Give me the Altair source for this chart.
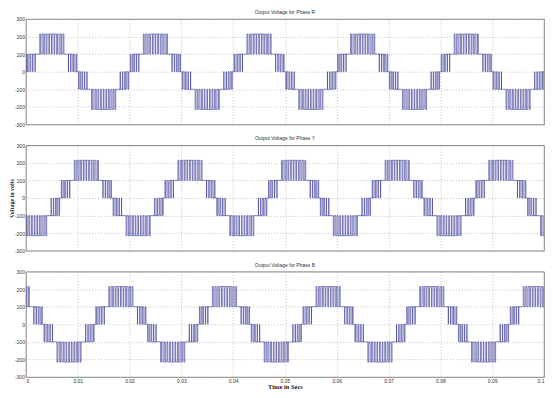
import altair as alt
import pandas as pd

# ---- values ----
TIME_TICKS = [0, 0.01, 0.02, 0.03, 0.04, 0.05, 0.06, 0.07, 0.08, 0.09, 0.1]
VOLT_TICKS = [-300, -200, -100, 0, 100, 200, 300]
PHASES = ["R", "Y", "B"]
PANEL_TITLES = ["Output Voltage for Phase R", "Output Voltage for Phase Y", "Output Voltage for Phase B"]
PHASE_DELAY = [0.0, 0.00667, 0.01333]   # s, lag of each phase behind phase R
PERIOD = 0.02                            # s, one fundamental cycle (5 cycles in 0.1 s)
N_CYCLES = [-1, 0, 1, 2, 3, 4, 5, 6]

# one cycle of the phase-R staircase, split in switching bands (times inside the cycle, s)
BAND_START = [0.0000, 0.0018, 0.0025, 0.0075, 0.0082, 0.0100, 0.0118, 0.0125, 0.0175, 0.0182]
BAND_END   = [0.0018, 0.0025, 0.0075, 0.0082, 0.0100, 0.0118, 0.0125, 0.0175, 0.0182, 0.0200]
BAND_BASE  = [0, 100, 100, 100, 0, 0, -100, -100, -100, 0]          # level between pulses (V)
BAND_PULSE = [100, 100, 215, 100, 100, -100, -100, -215, -100, -100] # level during a pulse (V)
BAND_DUTY = [
    [0.30, 0.55, 0.75, 0.90],
    [],
    [0.35, 0.50, 0.60, 0.70, 0.75, 0.75, 0.70, 0.60, 0.50, 0.35],
    [],
    [0.90, 0.75, 0.55, 0.30],
    [0.30, 0.55, 0.75, 0.90],
    [],
    [0.35, 0.50, 0.60, 0.70, 0.75, 0.75, 0.70, 0.60, 0.50, 0.35],
    [],
    [0.90, 0.75, 0.55, 0.30],
]

# ---- build the switching edges from the band table ----
rows = []
for phase, delay in zip(PHASES, PHASE_DELAY):
    for k in N_CYCLES:
        off = k * PERIOD + delay
        for t0, t1, lo, hi, duty in zip(BAND_START, BAND_END, BAND_BASE, BAND_PULSE, BAND_DUTY):
            a, b = t0 + off, t1 + off
            rows.append({"phase": phase, "t": a, "v": lo})
            n = len(duty)
            if n:
                p = (b - a) / n
                for i, d in enumerate(duty):
                    c = a + (i + 0.5) * p
                    w = d * p
                    rows.append({"phase": phase, "t": c - w / 2, "v": hi})
                    rows.append({"phase": phase, "t": c + w / 2, "v": lo})
df = pd.DataFrame(rows)
df = df[(df["t"] > -0.004) & (df["t"] < 0.104)].sort_values(["phase", "t"])

W, H = 521, 106
LINE = "#22228c"


def panel(i):
    phase = PHASES[i]
    last = i == 2
    mid = i == 1
    xaxis = alt.Axis(
        values=TIME_TICKS,
        grid=True,
        labels=last,
        title="Time in Secs" if last else None,
        labelExpr="format(datum.value, '.2~f')",
        titleFont="Liberation Serif",
        titleFontWeight="bold",
        titleFontSize=6.5,
        titlePadding=0,
    )
    yaxis = alt.Axis(
        values=VOLT_TICKS,
        grid=True,
        labelExpr="'' + datum.value",
        title="Voltage in volts" if mid else None,
        titleFont="Liberation Serif",
        titleFontWeight="bold",
        titleFontSize=6,
        titlePadding=0,
    )
    return (
        alt.Chart(df[df["phase"] == phase])
        .mark_line(interpolate="step-after", color=LINE, strokeWidth=0.55, clip=True)
        .encode(
            x=alt.X("t:Q", scale=alt.Scale(domain=[0, 0.1], nice=False, zero=False), axis=xaxis),
            y=alt.Y("v:Q", scale=alt.Scale(domain=[-300, 300], nice=False), axis=yaxis),
        )
        .properties(
            width=W,
            height=H,
            title=alt.TitleParams(
                PANEL_TITLES[i], fontSize=5, font="Liberation Sans", fontWeight="normal",
                color="#333333", offset=2,
            ),
        )
    )


chart = (
    alt.vconcat(panel(0), panel(1), panel(2), spacing=7)
    .properties(padding={"left": 0, "top": 0, "right": 0, "bottom": 0}, background="white")
    .configure_view(stroke="#666666", strokeWidth=0.8)
    .configure_axis(
        domain=False,
        ticks=False,
        gridColor="#9a9a9a",
        gridDash=[1, 2],
        gridWidth=0.6,
        labelFont="Liberation Sans",
        labelFontSize=5,
        labelColor="#333333",
        labelPadding=1.5,
        titleColor="#222222",
    )
)

chart.save("out.html", embed_options={"renderer": "svg", "actions": False})
